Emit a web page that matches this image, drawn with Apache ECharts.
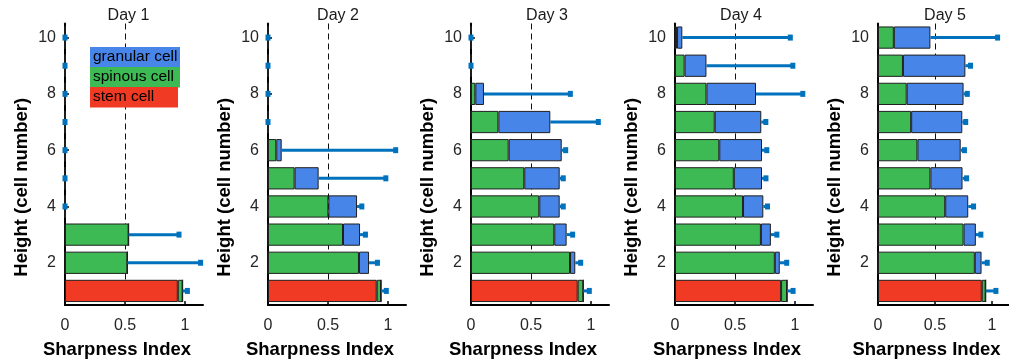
<!DOCTYPE html>
<html>
<head>
<meta charset="utf-8">
<script src="https://cdn.jsdelivr.net/npm/echarts@6/dist/echarts.min.js"></script>
<style>
html,body{margin:0;padding:0;background:#fff;}
#chart{width:1009px;height:364px;}
</style>
</head>
<body>
<div id="chart"></div>
<script>
// ---------- data ----------
const heights = ['1','2','3','4','5','6','7','8','9','10'];
const xTicks = [0, 0.5, 1];
const dayTitles = ['Day 1','Day 2','Day 3','Day 4','Day 5'];
const seriesNames = ['stem cell','spinous cell','granular cell'];
const refLine = 0.5;

const stemDay1 = [0.94, 0, 0, 0, 0, 0, 0, 0, 0, 0];
const stemDay2 = [0.906, 0, 0, 0, 0, 0, 0, 0, 0, 0];
const stemDay3 = [0.889, 0, 0, 0, 0, 0, 0, 0, 0, 0];
const stemDay4 = [0.884, 0, 0, 0, 0, 0, 0, 0, 0, 0];
const stemDay5 = [0.911, 0, 0, 0, 0, 0, 0, 0, 0, 0];

const spinousDay1 = [0.04, 0.52, 0.53, 0, 0, 0, 0, 0, 0, 0];
const spinousDay2 = [0.036, 0.758, 0.625, 0.503, 0.222, 0.069, 0, 0, 0, 0];
const spinousDay3 = [0.047, 0.825, 0.694, 0.569, 0.444, 0.314, 0.228, 0.036, 0, 0];
const spinousDay4 = [0.05, 0.832, 0.716, 0.567, 0.49, 0.369, 0.331, 0.262, 0.08, 0.017];
const spinousDay5 = [0.034, 0.85, 0.751, 0.59, 0.46, 0.346, 0.291, 0.252, 0.219, 0.139];

const granularDay1 = [0, 0, 0, 0, 0, 0, 0, 0, 0, 0];
const granularDay2 = [0, 0.084, 0.142, 0.239, 0.2, 0.045, 0, 0, 0, 0];
const granularDay3 = [0, 0.044, 0.103, 0.17, 0.295, 0.442, 0.433, 0.072, 0, 0];
const granularDay4 = [0, 0.041, 0.083, 0.169, 0.235, 0.356, 0.388, 0.413, 0.182, 0.044];
const granularDay5 = [0, 0.059, 0.108, 0.202, 0.282, 0.38, 0.449, 0.499, 0.548, 0.321];

const errDay1 = [0.04, 0.61, 0.42, 0, 0, 0, 0, 0, 0, 0];
const errDay2 = [0.044, 0.07, 0.045, 0.04, 0.56, 0.95, 0, 0, 0, 0];
const errDay3 = [0.05, 0.045, 0.05, 0.03, 0.03, 0.033, 0.40, 0.72, 0, 0];
const errDay4 = [0.05, 0.058, 0.05, 0.035, 0.033, 0.04, 0.038, 0.39, 0.72, 0.90];
const errDay5 = [0.09, 0.05, 0.044, 0.047, 0.036, 0.033, 0.03, 0.033, 0.045, 0.59];

const stems = [stemDay1, stemDay2, stemDay3, stemDay4, stemDay5];
const spinous = [spinousDay1, spinousDay2, spinousDay3, spinousDay4, spinousDay5];
const granular = [granularDay1, granularDay2, granularDay3, granularDay4, granularDay5];
const errs = [errDay1, errDay2, errDay3, errDay4, errDay5];

// ---------- style / layout ----------
const colors = {stem: '#F03A23', spinous: '#3DBA54', granular: '#4885E8', err: '#0072BD'};
const FONT = 'Liberation Sans, Arial, Helvetica, sans-serif';
const gridLefts = [65, 268, 471, 675, 878];
const titleCenters = [123.5, 333, 542, 736, 940];
const GRID_TOP = 23.5, GRID_H = 282, GRID_W = 138;

const grids = [], xAxes = [], yAxes = [], titles = [], series = [];

gridLefts.forEach((left, d) => {
  grids.push({left: left, top: GRID_TOP, width: GRID_W, height: GRID_H});
  titles.push({text: dayTitles[d], left: titleCenters[d], top: 3, textAlign: 'center',
    textStyle: {fontFamily: FONT, fontSize: 16, fontWeight: 'normal', color: '#1a1a1a'}});
  xAxes.push({
    gridIndex: d, type: 'value', min: 0, max: 1.15, interval: 0.5,
    axisLine: {show: true, onZero: false, lineStyle: {color: '#000', width: 2}},
    axisTick: {show: true, inside: true, length: 4, customValues: xTicks, lineStyle: {color: '#000', width: 1.5}},
    axisLabel: {customValues: xTicks, fontFamily: FONT, fontSize: 16, color: '#262626', margin: 13,
      formatter: v => String(v)},
    splitLine: {show: false},
    name: 'Sharpness Index', nameLocation: 'middle', nameGap: 35,
    nameTextStyle: {fontFamily: FONT, fontWeight: 'bold', fontSize: 18.5, color: '#000', padding: [0, 34, 0, 0]}
  });
  yAxes.push({
    gridIndex: d, type: 'category', data: heights, boundaryGap: true,
    axisLine: {show: true, lineStyle: {color: '#000', width: 2}},
    axisTick: {show: true, inside: true, alignWithLabel: true, length: 4,
      interval: (i) => i % 2 === 1, lineStyle: {color: '#000', width: 1.5}},
    axisLabel: {interval: (i) => i % 2 === 1, fontFamily: FONT, fontSize: 16, color: '#262626', margin: 9},
    splitLine: {show: false},
    name: 'Height (cell number)', nameLocation: 'middle', nameGap: 34,
    nameTextStyle: {fontFamily: FONT, fontWeight: 'bold', fontSize: 18.5, color: '#000', padding: [0, 46, 0, 0]}
  });

  // dashed reference line (behind bars)
  series.push({
    type: 'custom', xAxisIndex: d, yAxisIndex: d, z: 1, silent: true,
    encode: {x: 0}, data: [[refLine]],
    renderItem: function (params, api) {
      const cs = params.coordSys;
      const px = Math.round(api.coord([api.value(0), 0])[0]) + 0.5;
      return {type: 'line', shape: {x1: px, y1: cs.y, x2: px, y2: cs.y + cs.height},
        style: {stroke: '#111', lineWidth: 1, lineDash: [6, 4]}};
    }
  });

  const parts = [[stems[d], colors.stem, seriesNames[0]], [spinous[d], colors.spinous, seriesNames[1]], [granular[d], colors.granular, seriesNames[2]]];
  parts.forEach(([vals, col, nm]) => {
    series.push({
      type: 'bar', name: nm, xAxisIndex: d, yAxisIndex: d, stack: 'day' + d,
      data: vals, barCategoryGap: '21%', z: 2,
      itemStyle: {color: col, borderColor: '#1f1f1f', borderWidth: 1},
      emphasis: {disabled: true}
    });
  });

  const errData = heights.map((h, i) => [stems[d][i] + spinous[d][i] + granular[d][i], i, errs[d][i]]);
  series.push({
    type: 'custom', xAxisIndex: d, yAxisIndex: d, z: 3, silent: true,
    encode: {x: 0, y: 1},
    data: errData,
    renderItem: function (params, api) {
      const x = api.value(0), yi = api.value(1), e = api.value(2);
      const p0 = api.coord([x, yi]);
      const p1 = api.coord([x + e, yi]);
      return {type: 'group', children: [
        {type: 'line', shape: {x1: p0[0], y1: p0[1], x2: p1[0], y2: p1[1]},
          style: {stroke: colors.err, lineWidth: 3}},
        {type: 'rect', shape: {x: p1[0] - 2.5, y: p1[1] - 3, width: 5, height: 6},
          style: {fill: colors.err}}
      ]};
    }
  });
});

// legend boxes (panel 1)
const legendItems = [[seriesNames[2], colors.granular, 47, 90], [seriesNames[1], colors.spinous, 67, 90], [seriesNames[0], colors.stem, 87, 88]];
const graphics = [];
legendItems.forEach(([txt, col, top, w]) => {
  graphics.push({type: 'rect', left: 90, top: top, shape: {width: w, height: 20.5}, style: {fill: col}, z: 10});
  graphics.push({type: 'text', left: 93, top: top + 2, style: {text: txt, fill: '#000', fontFamily: FONT, fontSize: 15.5}, z: 11});
});

const chart = echarts.init(document.getElementById('chart'), null, {renderer: 'canvas'});
chart.setOption({
  animation: false,
  backgroundColor: '#fff',
  title: titles,
  grid: grids,
  xAxis: xAxes,
  yAxis: yAxes,
  series: series,
  graphic: graphics
});
</script>
</body>
</html>
